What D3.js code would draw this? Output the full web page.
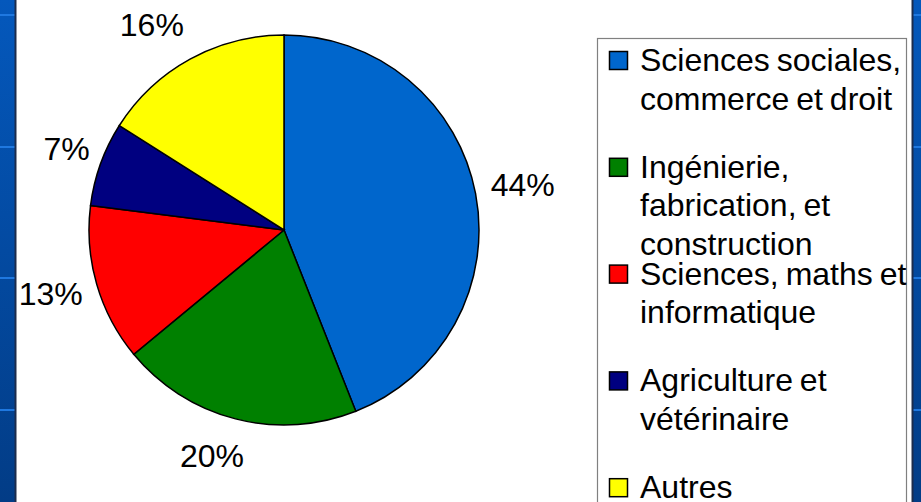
<!DOCTYPE html>
<html>
<head>
<meta charset="utf-8">
<script src="https://cdn.jsdelivr.net/npm/d3@7"></script>
<style>
  html, body { margin: 0; padding: 0; }
  body { width: 921px; height: 502px; overflow: hidden; }
</style>
</head>
<body>
<div id="chart"></div>
<script>
const categories = [
    ['Sciences sociales,', 'commerce et droit'],
    ['Ingénierie,', 'fabrication, et', 'construction'],
    ['Sciences, maths et', 'informatique'],
    ['Agriculture et', 'vétérinaire'],
    ['Autres']
];
const values = [44, 20, 13, 7, 16];
const colors = ['#0066cc', '#008000', '#ff0000', '#000080', '#ffff00'];

const W = 921, H = 502;
const FONT = '"Liberation Sans", Arial, sans-serif';

// small hand tuning of the outside labels (degrees, radius)
const labelNudge = [
    { a: 0, r: 243 },
    { a: 3.3, r: 237 },
    { a: 0.8, r: 242 },
    { a: 0.7, r: 232 },
    { a: -4, r: 244 }
];

const svg = d3.select('#chart').append('svg')
    .attr('width', W)
    .attr('height', H);

// slide background
const defs = svg.append('defs');
const grad = defs.append('linearGradient')
    .attr('id', 'bg')
    .attr('x1', 0).attr('y1', 0).attr('x2', 0).attr('y2', 1);
grad.append('stop').attr('offset', '0%').attr('stop-color', '#0458bc');
grad.append('stop').attr('offset', '100%').attr('stop-color', '#023c86');
svg.append('rect').attr('width', W).attr('height', H).attr('fill', 'url(#bg)');

// light stripes on the side margins
const stripeY = [15, 147, 278, 410];
svg.append('g').selectAll('rect')
    .data(stripeY)
    .enter()
    .append('rect')
    .attr('x', 0)
    .attr('y', d => d - 1)
    .attr('width', W)
    .attr('height', 2)
    .attr('fill', '#1f78e0');

// white chart area
svg.append('rect')
    .attr('x', 15.5).attr('y', -2)
    .attr('width', 897).attr('height', H + 4)
    .attr('fill', '#fff')
    .attr('stroke', '#1c2c4c')
    .attr('stroke-width', 2);

// pie
const cx = 284, cy = 230, r = 195;
const pie = d3.pie().sort(null).value(d => d)(values);
const arc = d3.arc().innerRadius(0).outerRadius(r);

const g = svg.append('g').attr('transform', `translate(${cx},${cy})`);
g.selectAll('path')
    .data(pie)
    .enter()
    .append('path')
    .attr('d', arc)
    .attr('fill', (d, i) => colors[i])
    .attr('stroke', '#000')
    .attr('stroke-width', 1.5);

function labelPos(d, i) {
    const n = labelNudge[i];
    const a = (d.startAngle + d.endAngle) / 2 + n.a * Math.PI / 180;
    return [Math.sin(a) * n.r, -Math.cos(a) * n.r];
}

g.selectAll('text')
    .data(pie)
    .enter()
    .append('text')
    .attr('transform', (d, i) => `translate(${labelPos(d, i)})`)
    .attr('text-anchor', 'middle')
    .attr('dy', '0.35em')
    .attr('font-family', FONT)
    .attr('font-size', '32px')
    .attr('fill', '#000')
    .text(d => d.data + '%');

// legend
const lx = 597, ly = 38;
svg.append('rect')
    .attr('x', lx + 0.5).attr('y', ly + 0.5)
    .attr('width', 309).attr('height', H)
    .attr('fill', '#fff')
    .attr('stroke', '#808080')
    .attr('stroke-width', 1.2);

const step = 106.8, firstBase = 71, lineH = 38.5;
const items = svg.append('g').selectAll('g')
    .data(categories)
    .enter()
    .append('g')
    .attr('transform', (d, i) => `translate(0,${firstBase + step * i})`);

items.append('rect')
    .attr('x', 609.5)
    .attr('y', -19.5)
    .attr('width', 18)
    .attr('height', 18)
    .attr('fill', (d, i) => colors[i])
    .attr('stroke', '#000')
    .attr('stroke-width', 1.5);

items.append('text')
    .attr('font-family', FONT)
    .attr('font-size', '32px')
    .attr('word-spacing', '-2px')
    .attr('fill', '#000')
    .selectAll('tspan')
    .data(d => d)
    .enter()
    .append('tspan')
    .attr('x', 640)
    .attr('y', (d, i) => i * lineH)
    .text(d => d);
</script>
</body>
</html>
